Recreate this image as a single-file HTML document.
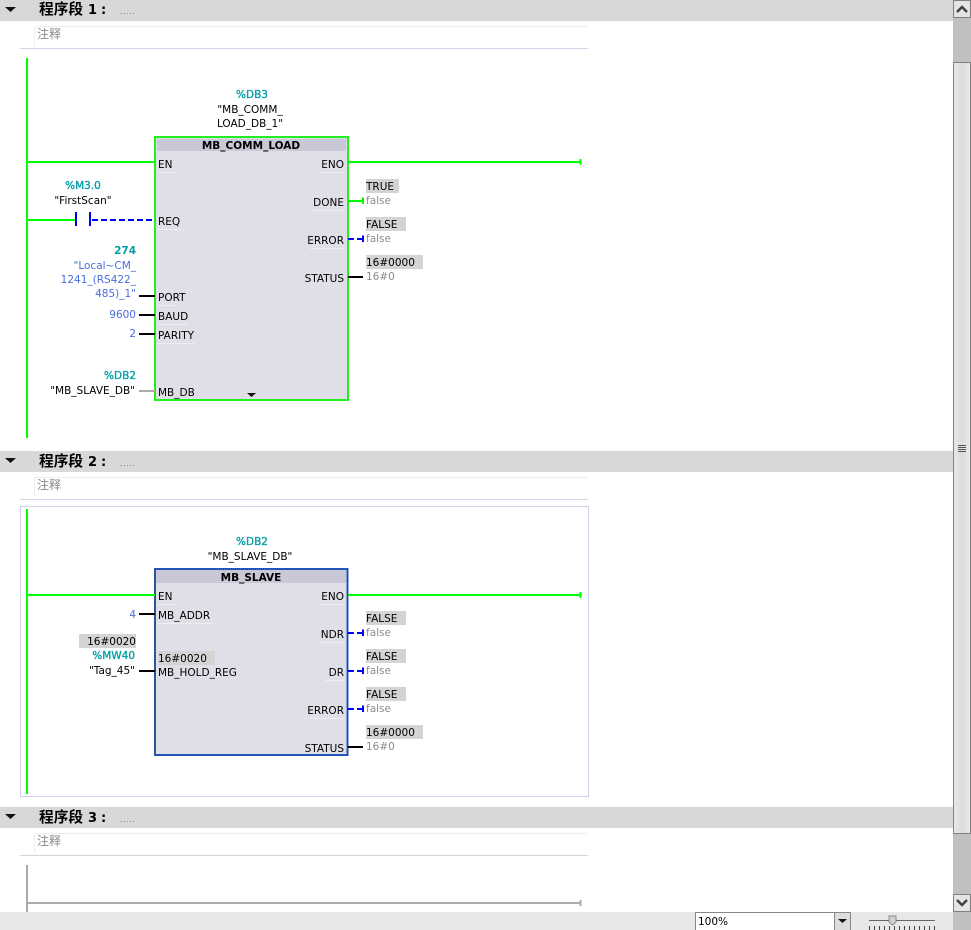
<!DOCTYPE html>
<html><head><meta charset="utf-8"><style>
html,body{margin:0;padding:0;background:#fff;width:971px;height:930px;overflow:hidden}
svg{display:block}
text{font-family:"DejaVu Sans","Noto Sans CJK SC",sans-serif;font-size:10.5px;fill:#000}
.h{font-family:"Noto Sans CJK SC",sans-serif;font-size:14.700px;font-weight:700}
.n{font-family:"DejaVu Sans",sans-serif;font-size:13px;font-weight:700}
.c{font-family:"Noto Sans CJK SC",sans-serif;font-size:12px;fill:#8a8a8a}
.t{font-size:10.5px;fill:#00a0a8;stroke:#00a0a8;stroke-width:.35px}
.b{fill:#4a6ee0}
.g{fill:#8c8c8c}
.m{font-weight:700;font-size:10.5px}
.e{text-anchor:end}.mid{text-anchor:middle}
</style></head><body>
<svg width="971" height="930" viewBox="0 0 971 930" xmlns="http://www.w3.org/2000/svg">
<!-- headers -->
<rect x="0" y="0" width="953" height="21" fill="#d8d8d8"/>
<rect x="0" y="451" width="953" height="21" fill="#d8d8d8"/>
<rect x="0" y="807" width="953" height="21" fill="#d8d8d8"/>
<path d="M5 7h11l-5.500 5z M5 458h11l-5.500 5z M5 814h11l-5.500 5z" fill="#111"/>
<text class="h" x="39" y="14">程序段</text><text class="n" x="88" y="14">1</text><text class="n" x="101" y="14">:</text>
<text class="h" x="39" y="466">程序段</text><text class="n" x="88" y="466">2</text><text class="n" x="101" y="466">:</text>
<text class="h" x="39" y="822">程序段</text><text class="n" x="88" y="822">3</text><text class="n" x="101" y="822">:</text>
<text x="120" y="14" style="font-size:8px;fill:#777" textLength="15">.....</text>
<text x="120" y="466" style="font-size:8px;fill:#777" textLength="15">.....</text>
<text x="120" y="822" style="font-size:8px;fill:#777" textLength="15">.....</text>
<!-- comments -->
<path d="M34.500 46V26.500H588 M34.500 497V477.500H588 M34.500 853V833.500H588" fill="none" stroke="#eeeeee"/>
<path d="M20 48.500H588 M20 499.500H588" stroke="#d4d4e8"/>
<path d="M20 855.500H588" stroke="#d4d4dc"/>
<text class="c" x="37" y="38">注释</text><text class="c" x="37" y="489">注释</text><text class="c" x="37" y="845">注释</text>
<rect x="20.500" y="506.500" width="568" height="290" fill="none" stroke="#d0d0ec"/>

<!-- NETWORK 1 -->
<rect x="26" y="58" width="2" height="380" fill="#00ff00"/>
<rect x="155.500" y="137.500" width="192" height="262" fill="#dfdfe8"/>
<rect x="157" y="139" width="189" height="12" fill="#c8c8d6"/>
<rect x="155" y="137" width="193" height="263" fill="none" stroke="#22ee22" stroke-width="2"/>
<path d="M157 172.500h20M157 229.500h24M157 305.500h20M157 324.500h31M157 343.500h38M320 172.500h24M310 210.500h34M310 248.500h34" stroke="#eeeef2"/>
<path d="M27 162H155 M348 162H580 M27 220H75" stroke="#00ff00" stroke-width="2" fill="none"/>
<rect x="579.500" y="159" width="2" height="6" fill="#00ff00"/>
<path d="M76 212v14 M90 212v14" stroke="#0000ff" stroke-width="2" fill="none"/>
<path d="M92 220H155" stroke="#0000ff" stroke-width="2" stroke-dasharray="6 3" fill="none"/>
<path d="M348 201H362" stroke="#00ff00" stroke-width="2"/><rect x="362" y="197.500" width="2" height="6.500" fill="#00ff00"/>
<path d="M348 239H362" stroke="#0000ff" stroke-width="2" stroke-dasharray="6 3"/><rect x="362" y="235.500" width="2" height="6.500" fill="#0000ff"/>
<path d="M348 277H363" stroke="#000" stroke-width="2"/>
<path d="M139 296H155 M139 315H155 M139 334H155" stroke="#000" stroke-width="2"/>
<path d="M139 391H155" stroke="#aaa" stroke-width="2"/>
<path d="M247 393h9l-4.500 4z" fill="#111"/>

<text class="t mid" x="252" y="98">%DB3</text>
<text class="mid" x="250" y="113">"MB_COMM_</text>
<text class="mid" x="250" y="127">LOAD_DB_1"</text>
<text class="m mid" x="251" y="149">MB_COMM_LOAD</text>
<text x="158" y="168">EN</text><text x="158" y="225">REQ</text>
<text x="158" y="301">PORT</text><text x="158" y="320">BAUD</text><text x="158" y="339">PARITY</text><text x="158" y="396">MB_DB</text>
<text class="e" x="344" y="168">ENO</text><text class="e" x="344" y="206">DONE</text><text class="e" x="344" y="244">ERROR</text><text class="e" x="344" y="282">STATUS</text>
<text class="t mid" x="83" y="189">%M3.0</text>
<text class="mid" x="83" y="204">"FirstScan"</text>
<text class="t e" x="136" y="254" style="font-weight:700;stroke-width:0">274</text>
<text class="b e" x="136" y="269">"Local~CM_</text>
<text class="b e" x="136" y="283">1241_(RS422_</text>
<text class="b e" x="136" y="297">485)_1"</text>
<text class="b e" x="136" y="318">9600</text>
<text class="b e" x="136" y="337">2</text>
<text class="t e" x="136" y="379">%DB2</text>
<text class="e" x="135" y="394">"MB_SLAVE_DB"</text>
<rect x="366" y="179" width="33" height="14" fill="#d4d4d4"/><text x="366" y="190">TRUE</text><text class="g" x="366" y="204">false</text>
<rect x="366" y="217" width="40" height="14" fill="#d4d4d4"/><text x="366" y="228">FALSE</text><text class="g" x="366" y="242">false</text>
<rect x="366" y="255" width="57" height="14" fill="#d4d4d4"/><text x="366" y="266">16#0000</text><text class="g" x="366" y="280">16#0</text>

<!-- NETWORK 2 -->
<rect x="26" y="509" width="2" height="285" fill="#00ff00"/>
<rect x="155" y="569" width="192.500" height="186" fill="#dfdfe8"/>
<rect x="156" y="570" width="191" height="13" fill="#c8c8d6"/>
<path d="M157 604.500h20M157 623.500h56M320 604.500h24M320 642.500h24M325 680.500h19M310 718.500h34" stroke="#eeeef2"/>
<rect x="155" y="569" width="192.500" height="186" fill="none" stroke="#2d5fc0" stroke-width="2"/>
<rect x="155" y="569" width="192.500" height="186" fill="none" stroke="#333" stroke-width="1" stroke-dasharray="1 1"/>
<path d="M27 595H155 M348 595H580" stroke="#00ff00" stroke-width="2"/>
<rect x="579.500" y="592" width="2" height="6" fill="#00ff00"/>
<path d="M139 614H155 M139 671H155 M348 747H363" stroke="#000" stroke-width="2"/>
<path d="M348 633H362 M348 671H362 M348 709H362" stroke="#0000ff" stroke-width="2" stroke-dasharray="6 3"/>
<path d="M363 629.500v6.500 M363 667.500v6.500 M363 705.500v6.500" stroke="#0000ff" stroke-width="2"/>

<text class="t mid" x="252" y="545">%DB2</text>
<text class="mid" x="250" y="560">"MB_SLAVE_DB"</text>
<text class="m mid" x="251" y="581">MB_SLAVE</text>
<text x="158" y="600">EN</text><text x="158" y="619">MB_ADDR</text>
<rect x="158" y="651" width="57" height="14" fill="#d4d4d4"/><text x="158" y="662">16#0020</text><text x="158" y="676">MB_HOLD_REG</text>
<text class="e" x="344" y="600">ENO</text><text class="e" x="344" y="638">NDR</text><text class="e" x="344" y="676">DR</text><text class="e" x="344" y="714">ERROR</text><text class="e" x="344" y="752">STATUS</text>
<text class="b e" x="136" y="618">4</text>
<rect x="79" y="634" width="57" height="14" fill="#d4d4d4"/><text class="e" x="136" y="645">16#0020</text>
<text class="t e" x="135" y="659">%MW40</text>
<text class="e" x="135" y="674">"Tag_45"</text>
<rect x="366" y="611" width="40" height="14" fill="#d4d4d4"/><text x="366" y="622">FALSE</text><text class="g" x="366" y="636">false</text>
<rect x="366" y="649" width="40" height="14" fill="#d4d4d4"/><text x="366" y="660">FALSE</text><text class="g" x="366" y="674">false</text>
<rect x="366" y="687" width="40" height="14" fill="#d4d4d4"/><text x="366" y="698">FALSE</text><text class="g" x="366" y="712">false</text>
<rect x="366" y="725" width="57" height="14" fill="#d4d4d4"/><text x="366" y="736">16#0000</text><text class="g" x="366" y="750">16#0</text>

<!-- NETWORK 3 -->
<rect x="26" y="865" width="2" height="47" fill="#aaaaaa"/>
<path d="M27 903H580" stroke="#aaaaaa" stroke-width="2"/>
<rect x="579.500" y="900" width="2" height="6" fill="#aaaaaa"/>

<!-- bottom bar -->
<rect x="0" y="912" width="953" height="18" fill="#e8e8e8"/>
<rect x="695.500" y="912.500" width="155" height="20" fill="#fff" stroke="#888"/>
<rect x="835" y="913" width="15" height="17" fill="#dcdcdc"/><path d="M834.500 913v17" stroke="#888"/>
<path d="M838 919h9l-4.500 4z" fill="#111"/>
<text x="698" y="925" style="font-size:10.500px">100%</text>
<path d="M869 920.500H935" stroke="#666"/>
<path d="M889 916h7v6l-3.500 3l-3.500-3z" fill="#d0d0d0" stroke="#888"/>
<path d="M869.500 926v4M874.500 926v4M879.500 926v4M884.500 926v4M889.500 926v4M894.500 926v4M899.500 926v4M904.500 926v4M909.500 926v4M914.500 926v4M919.500 926v4M924.500 926v4M929.500 926v4M934.500 926v4" stroke="#444"/>

<!-- scrollbar -->
<rect x="953" y="0" width="18" height="930" fill="#c0c0c0"/>
<rect x="953.500" y="0.500" width="17" height="17" fill="#e4e4e4" stroke="#808080"/>
<path d="M957 12l5-5l5 5" fill="none" stroke="#444" stroke-width="2.500"/>
<defs><linearGradient id="tg" x1="0" x2="1" y1="0" y2="0"><stop offset="0" stop-color="#e8e8e8"/><stop offset=".5" stop-color="#dcdcdc"/><stop offset="1" stop-color="#e8e8e8"/></linearGradient></defs>
<rect x="953.500" y="62.500" width="17" height="771" fill="url(#tg)" stroke="#808080"/>
<path d="M958 445.500h8M958 447.500h8M958 449.500h8M958 451.500h8" stroke="#555"/>
<rect x="953.500" y="894.500" width="17" height="17" fill="#e4e4e4" stroke="#808080"/>
<path d="M957 900l5 5l5-5" fill="none" stroke="#444" stroke-width="2.500"/>
</svg>
</body></html>
